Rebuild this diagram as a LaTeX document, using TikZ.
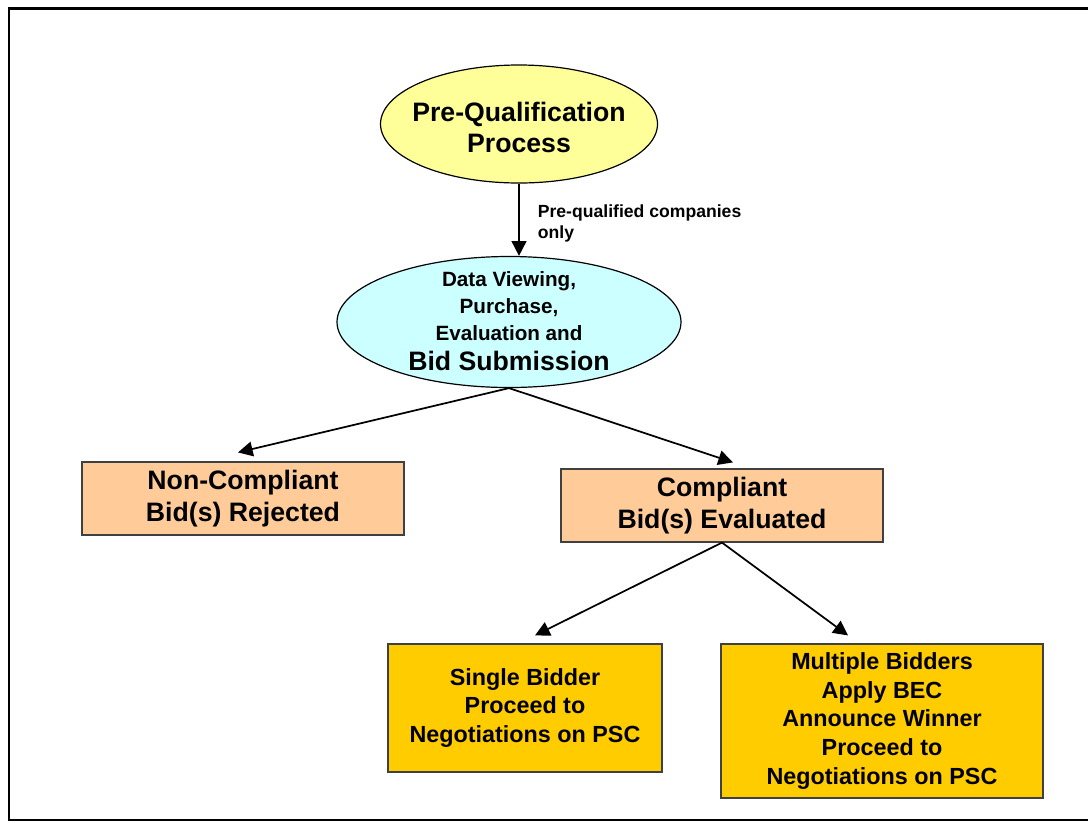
\documentclass[tikz,border=0pt]{standalone}
\usepackage{fontspec}
\setmainfont{Liberation Sans}
\usetikzlibrary{arrows.meta,shapes.geometric}

\definecolor{pqyellow}{HTML}{FFFF99}
\definecolor{dvcyan}{HTML}{CCFFFF}
\definecolor{bidpeach}{HTML}{FFCC99}
\definecolor{bidgold}{HTML}{FFCC00}

\tikzset{
	flow/.style={-{Triangle[length=11pt,width=11pt]}, line width=1.3pt},
	bubble/.style={draw=black, shape=ellipse, line width=0.9pt, inner sep=0pt},
	stepbox/.style={draw=black!75, shape=rectangle, line width=0.9pt, inner sep=0pt, align=center, font=\bfseries\fontsize{20}{24.5}\selectfont},
	finalbox/.style={stepbox, fill=bidgold, font=\bfseries\fontsize{17.5}{21.5}\selectfont},
}

\begin{document}
\begin{tikzpicture}[x=0.75pt, y=-0.75pt]
	\useasboundingbox (0,0) rectangle (1088,822);
	\clip (0,0) rectangle (1088,822);
	\draw[line width=2pt] (9,8.5) rectangle (1110,820);

	\node[bubble, fill=pqyellow, minimum width=207.75pt, minimum height=88.5pt] (pq_e) at (519,124) {};
	\node[align=center, inner sep=0pt, font=\bfseries\fontsize{20}{23.25}\selectfont] (pq_t) at (519,127) {Pre-Qualification\\Process};

	\node[bubble, fill=dvcyan, minimum width=258pt, minimum height=98.25pt] (dv_e) at (509,322) {};
	\node[align=center, inner sep=0pt, font=\bfseries\fontsize{15.5}{20}\selectfont] (dv_t) at (509,321) {Data Viewing,\\Purchase,\\Evaluation and\\[2.5pt]{\fontsize{20}{24}\selectfont Bid Submission}};

	\node[stepbox, fill=bidpeach, minimum width=241.5pt, minimum height=54.75pt] (nc_b) at (243,498.5) {Non-Compliant\\Bid(s) Rejected};
	\node[stepbox, fill=bidpeach, minimum width=241.5pt, minimum height=54.75pt] (ce_b) at (722,505.5) {Compliant\\Bid(s) Evaluated};

	\node[finalbox, minimum width=205.5pt, minimum height=96pt] (sb_b) at (525,708) {Single Bidder\\Proceed to\\Negotiations on PSC};
	\node[finalbox, minimum width=241.5pt, minimum height=115.5pt] (mb_b) at (882,721) {Multiple Bidders\\Apply BEC\\Announce Winner\\Proceed to\\Negotiations on PSC};

	\draw[flow] (pq_e.south) -- node[right, xshift=13.5pt, yshift=-3pt, align=left, inner sep=0pt, font=\bfseries\fontsize{13.2}{15.75}\selectfont] (pq_lbl) {Pre-qualified companies\\only} (pq_e.south |- dv_e.north);
	\draw[flow] (dv_e.south) -- ([xshift=-3.75pt, yshift=6.75pt]nc_b.north);
	\draw[flow] (dv_e.south) -- ([xshift=8.25pt, yshift=4.5pt]ce_b.north);
	\draw[flow] (ce_b.south) -- ([xshift=7.5pt, yshift=6pt]sb_b.north);
	\draw[flow] (ce_b.south) -- ([xshift=-25.5pt, yshift=6pt]mb_b.north);
\end{tikzpicture}
\end{document}
